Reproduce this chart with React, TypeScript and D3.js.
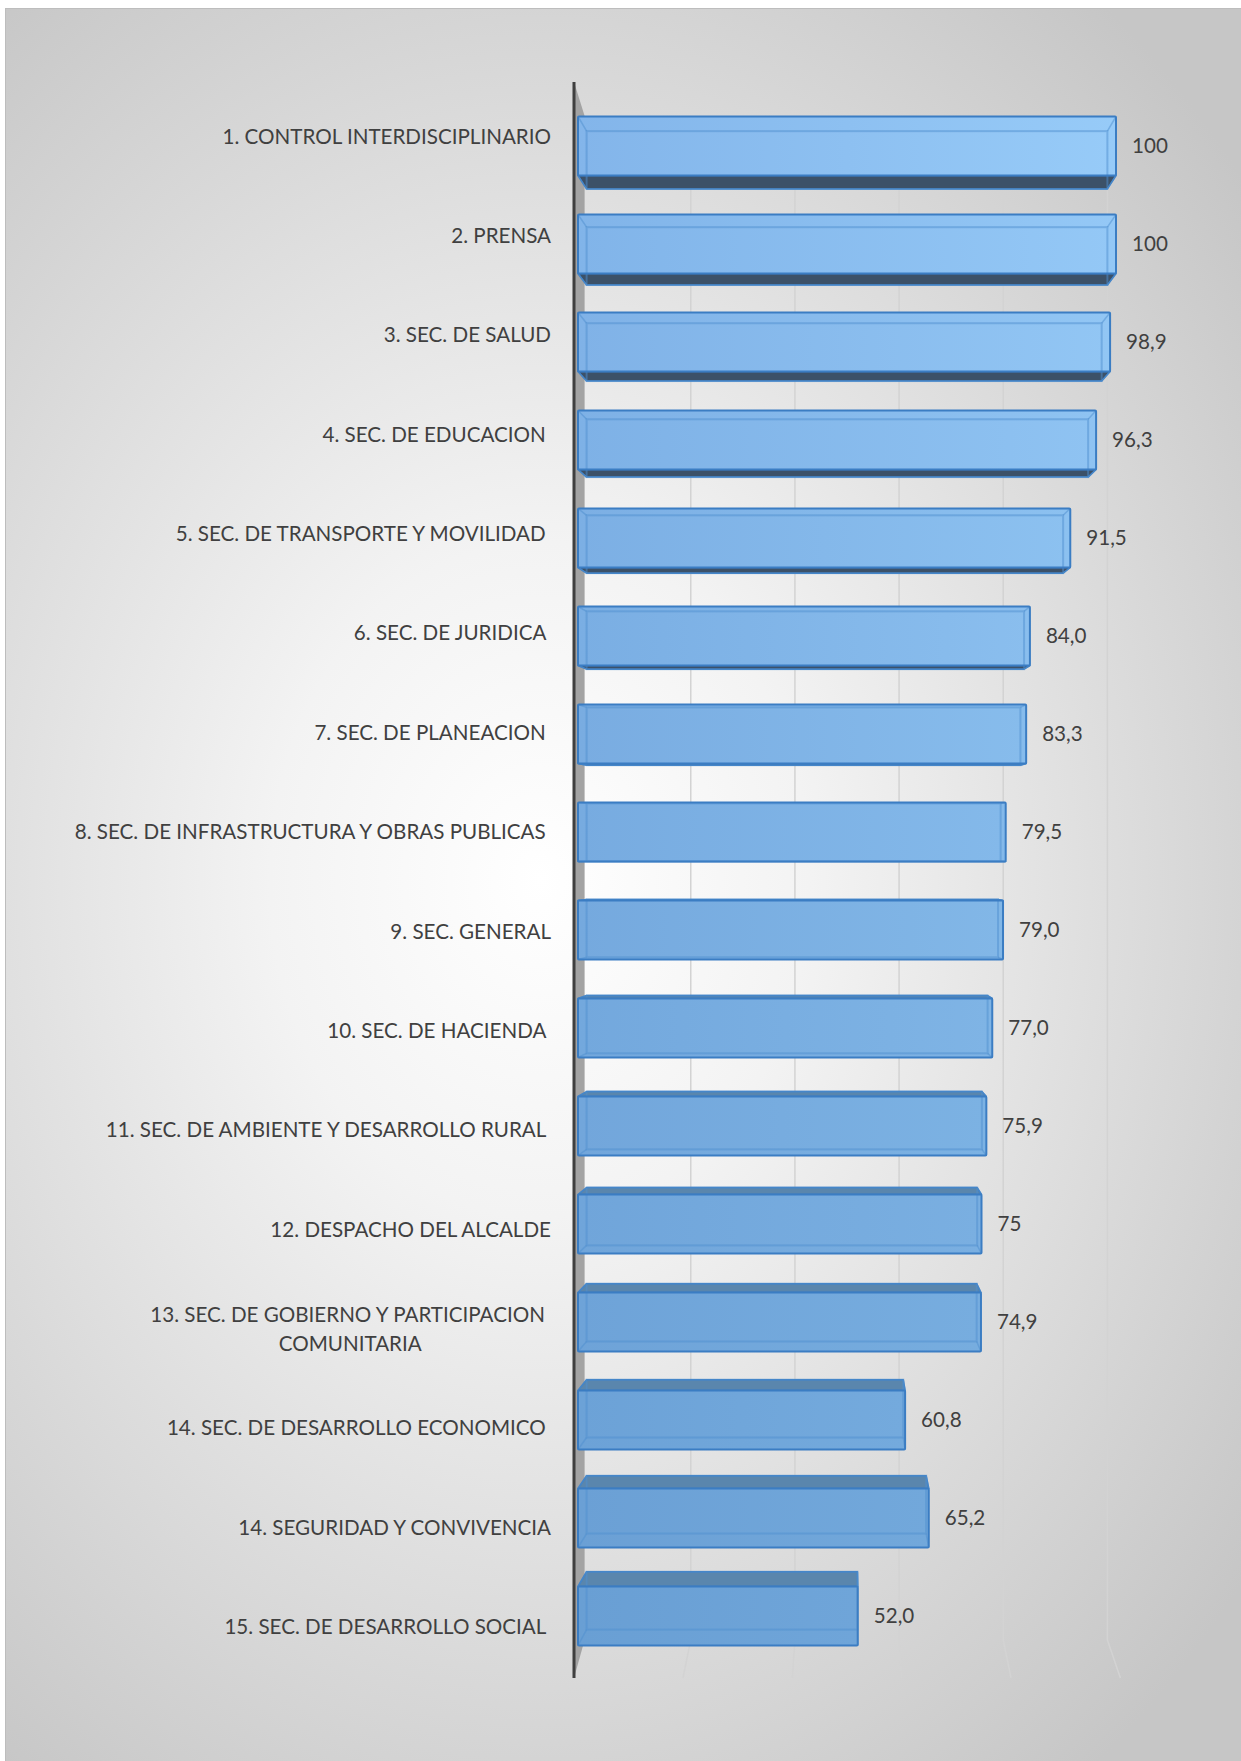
import React from 'react';
import * as d3 from 'd3';

const categories: string[] = [
  "1. CONTROL INTERDISCIPLINARIO",
  "2. PRENSA",
  "3. SEC. DE SALUD",
  "4. SEC. DE EDUCACION ",
  "5. SEC. DE TRANSPORTE Y MOVILIDAD ",
  "6. SEC. DE JURIDICA ",
  "7. SEC. DE PLANEACION ",
  "8. SEC. DE INFRASTRUCTURA Y OBRAS PUBLICAS ",
  "9. SEC. GENERAL",
  "10. SEC. DE HACIENDA ",
  "11. SEC. DE AMBIENTE Y DESARROLLO RURAL ",
  "12. DESPACHO DEL ALCALDE",
  "13. SEC. DE GOBIERNO Y PARTICIPACION \nCOMUNITARIA",
  "14. SEC. DE DESARROLLO ECONOMICO ",
  "14. SEGURIDAD Y CONVIVENCIA",
  "15. SEC. DE DESARROLLO SOCIAL ",
];

const values: number[] = [100, 100, 98.9, 96.3, 91.5, 84.0, 83.3, 79.5, 79.0, 77.0, 75.9, 75, 74.9, 60.8, 65.2, 52.0];

const valueLabels: string[] = ["100", "100", "98,9", "96,3", "91,5", "84,0", "83,3", "79,5", "79,0", "77,0", "75,9", "75", "74,9", "60,8", "65,2", "52,0"];

const gridTicks: number[] = [20, 40, 60, 80, 100];

const W = 1241;
const H = 1761;
const FONT = "Lato, 'Open Sans', sans-serif";
const FS = 20.6;

function measure(text: string): number {
  const c = document.createElement('canvas');
  const ctx = c.getContext('2d');
  if (!ctx) return text.length * FS * 0.55;
  ctx.font = `${FS}px Lato`;
  return ctx.measureText(text).width;
}

export default function App() {
  const x = d3.scaleLinear().domain([0, 100]).range([578, 1116]);
  const y = d3.scalePoint<number>().domain(d3.range(categories.length)).range([146, 1616]);
  const VPx = 847;
  const VPy = 849;
  const sx = 0.968;
  const sy = 0.98;
  const px = (v: number) => VPx + (v - VPx) * sx;
  const py = (v: number) => VPy + (v - VPy) * sy;
  const half = 29.5;

  const leftCol = d3.interpolateRgb('#83b5ea', '#699fd4');
  const rightCol = d3.interpolateRgb('#97cbf8', '#6fa5d9');
  const n = categories.length;

  const axisX = 574;
  const topY = 82;
  const wallTop = 116;
  const wallBot = 1640;
  const botY = 1678;

  return (
    <svg width={W} height={H} style={{ position: 'absolute', left: 0, top: 0, display: 'block' }}
      xmlns="http://www.w3.org/2000/svg">
      <defs>
        <radialGradient id="bg" gradientUnits="userSpaceOnUse" cx={540} cy={880} r={900}
          gradientTransform="translate(540 880) scale(1 1.25) translate(-540 -880)">
          <stop offset="0" stopColor="#ffffff" />
          <stop offset="0.3" stopColor="#f3f3f3" />
          <stop offset="0.75" stopColor="#d6d6d6" />
          <stop offset="1" stopColor="#c6c6c6" />
        </radialGradient>
        {values.map((v, i) => (
          <linearGradient key={i} id={`bar${i}`} x1="0" x2="1" y1="0" y2="0">
            <stop offset="0" stopColor={leftCol(i / (n - 1))} />
            <stop offset="1" stopColor={rightCol(i / (n - 1))} />
          </linearGradient>
        ))}
      </defs>
      <rect x={0} y={0} width={W} height={H} fill="#ffffff" />
      <rect x={5.5} y={8.5} width={W} height={H} fill="url(#bg)" stroke="#bdbdbd" strokeWidth={1} />

      {/* gridlines on back wall with floor perspective */}
      {gridTicks.map(t => {
        const gx = px(x(t));
        const gxb = VPx + (gx - VPx) * 1.05;
        return (
          <path key={t} d={`M${gx},${wallTop} L${gx},${wallBot} L${gxb},${botY}`}
            fill="none" stroke="#d3d3d3" strokeWidth={1.5} />
        );
      })}

      {/* side wall */}
      <polygon points={`${axisX},${topY} ${px(x(0)) - 2},${wallTop} ${px(x(0)) - 2},${wallBot} ${axisX},${botY}`}
        fill="#a3a3a3" />
      <line x1={axisX} x2={axisX} y1={topY} y2={botY} stroke="#3f3f3f" strokeWidth={3} />

      {/* bars */}
      {values.map((v, i) => {
        const yc = y(i) as number;
        const fy0 = yc - half;
        const fy1 = yc + half;
        const fx0 = x(0);
        const fx1 = x(v);
        const bx0 = px(fx0);
        const bx1 = px(fx1);
        const by0 = py(fy0);
        const by1 = py(fy1);
        const above = yc < VPy;
        const face = above
          ? `${fx0},${fy1} ${fx1},${fy1} ${bx1},${by1} ${bx0},${by1}`
          : `${fx0},${fy0} ${fx1},${fy0} ${bx1},${by0} ${bx0},${by0}`;
        return (
          <g key={i}>
            <polygon points={face} fill={above ? '#3c5168' : '#5a86ad'} stroke="#3b7dc3" strokeWidth={1.5}
              strokeLinejoin="round" />
            <rect x={fx0} y={fy0} width={fx1 - fx0} height={fy1 - fy0} fill={`url(#bar${i})`} />
            <rect x={bx0} y={by0} width={bx1 - bx0} height={by1 - by0} fill="none"
              stroke="#4f8fd0" strokeOpacity={0.5} strokeWidth={2} />
            <path d={`M${fx0},${fy0}L${bx0},${by0}M${fx1},${fy0}L${bx1},${by0}M${fx0},${fy1}L${bx0},${by1}M${fx1},${fy1}L${bx1},${by1}`}
              stroke="#4f8fd0" strokeOpacity={0.5} strokeWidth={1.5} />
            <rect x={fx0} y={fy0} width={fx1 - fx0} height={fy1 - fy0} fill="none"
              stroke="#3b7dc3" strokeWidth={2} rx={1} />
            <text x={fx1 + 16} y={yc} dy="0.36em" fontFamily={FONT} fontSize={FS} fill="#404040">
              {valueLabels[i]}
            </text>
          </g>
        );
      })}

      {/* category labels */}
      {categories.map((c, i) => {
        const yc = y(i) as number;
        const ly = VPy + (yc - VPy) * 1.014;
        const lx = 551;
        const lines = c.split('\n');
        if (lines.length === 1) {
          return (
            <text key={i} x={lx} y={ly} dy="0.36em" textAnchor="end" fontFamily={FONT} fontSize={FS}
              fill="#404040" style={{ whiteSpace: 'pre' }}>
              {c}
            </text>
          );
        }
        const w0 = measure(lines[0]);
        const cx = lx - w0 / 2;
        const lh = 29;
        const y0 = ly - (lh * (lines.length - 1)) / 2;
        return (
          <text key={i} fontFamily={FONT} fontSize={FS} fill="#404040" textAnchor="middle"
            style={{ whiteSpace: 'pre' }}>
            {lines.map((l, k) => (
              <tspan key={k} x={cx} y={y0 + k * lh} dy="0.36em">{l}</tspan>
            ))}
          </text>
        );
      })}
    </svg>
  );
}
